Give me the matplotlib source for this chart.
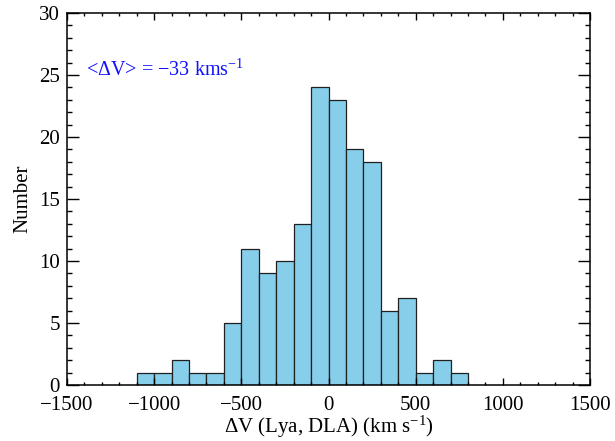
import matplotlib
matplotlib.use("Agg")
import matplotlib.pyplot as plt
from matplotlib.ticker import MultipleLocator
import numpy as np

# Data
bin_edges = list(range(-1100, 900, 100))  # -1100 ... 800
counts = [1, 1, 2, 1, 1, 5, 11, 9, 10, 13, 24, 23, 19, 18, 6, 7, 1, 2, 1]
xlabel = r"$\Delta$V (Lya, DLA) (km s$^{-1}$)"
ylabel = "Number"
annot = r"<$\Delta$V> = $-$33 kms$^{-1}$"

plt.rcParams['font.family'] = ['Liberation Serif', 'DejaVu Serif']
plt.rcParams['mathtext.fontset'] = 'custom'
plt.rcParams['mathtext.rm'] = 'Liberation Serif'
plt.rcParams['mathtext.it'] = 'Liberation Serif:italic'
plt.rcParams['mathtext.default'] = 'rm'
plt.rcParams['axes.unicode_minus'] = True

fig = plt.figure(figsize=(6.15, 4.41), dpi=100)
ax = fig.add_axes([67/615, 1-385/441, (590-67)/615, (385-13)/441])

lefts = bin_edges[:-1]
widths = np.diff(bin_edges)
ax.bar(lefts, counts, width=widths, align='edge', color='#87CEEB',
       edgecolor='#202020', linewidth=0.9)

ax.set_xlim(-1500, 1500)
ax.set_ylim(0, 30)
ax.xaxis.set_major_locator(MultipleLocator(500))
ax.xaxis.set_minor_locator(MultipleLocator(100))
ax.yaxis.set_major_locator(MultipleLocator(5))
ax.yaxis.set_minor_locator(MultipleLocator(1))

ax.tick_params(axis='both', which='both', direction='in', top=True, right=True,
               labelsize=15, width=1.0, color='black')
ax.tick_params(axis='y', which='major', length=8.5, pad=5)
ax.tick_params(axis='y', which='minor', length=3.6)
ax.tick_params(axis='x', which='major', length=5, pad=8)
ax.tick_params(axis='x', which='minor', length=2.3)
for s in ax.spines.values():
    s.set_linewidth(1.1)

ax.set_xlabel(xlabel, fontsize=15, labelpad=-1)
ax.set_ylabel(ylabel, fontsize=15, labelpad=5)

ax.text(-1390, 25.4, annot, color='#1010ff', fontsize=14.5, ha='left', va='center')

fig.savefig("out.png", dpi=100)
